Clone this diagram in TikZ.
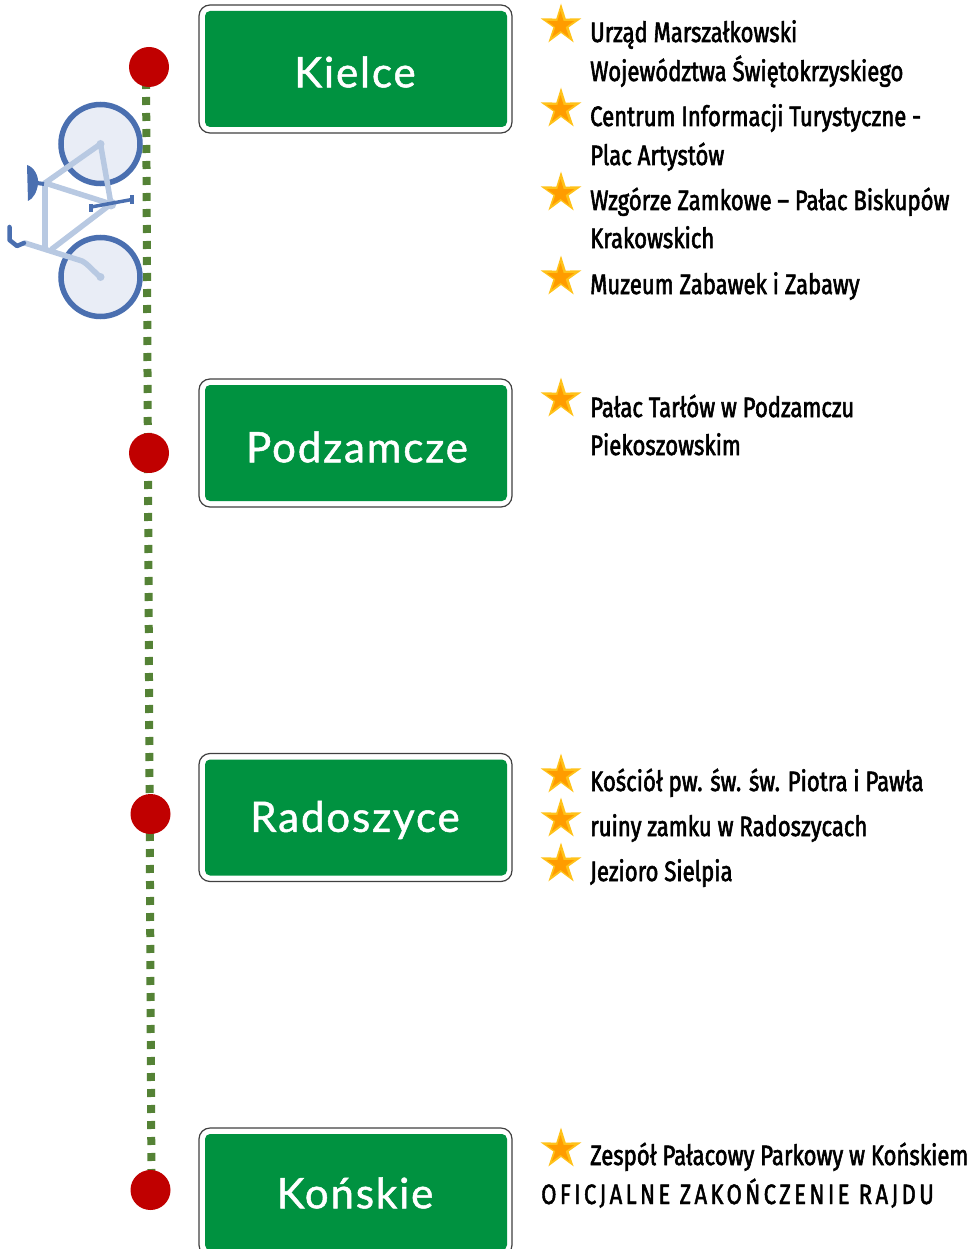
\documentclass[tikz,border=0pt]{standalone}
\usepackage{fontspec}
\setmainfont{Lato}
\newfontfamily\condf[FakeStretch=0.79,FakeBold=2]{Fira Sans}
\newfontfamily\condsp[FakeStretch=0.79,FakeBold=1.6,LetterSpace=12]{Fira Sans}
\newfontfamily\signf[LetterSpace=4.5,FakeBold=1.2]{Lato}
\usetikzlibrary{shapes.geometric}
\definecolor{signgreen}{HTML}{009240}
\definecolor{dotgreen}{HTML}{548235}
\definecolor{redc}{HTML}{C00000}
\definecolor{wheelblue}{HTML}{4A6FB0}
\definecolor{wheelfill}{HTML}{E9EDF6}
\definecolor{framec}{HTML}{B8C9E2}
\definecolor{staredge}{HTML}{FFC21A}
\definecolor{starcore}{HTML}{FF9C00}
\tikzset{
 outersign/.style={draw=black!75,line width=1.2pt,fill=white,rounded corners=11pt,minimum width=313pt,minimum height=128pt,inner sep=0pt,outer sep=0pt},
 innersign/.style={draw=none,fill=signgreen,rounded corners=5pt,minimum width=302pt,minimum height=116pt,inner sep=0pt,outer sep=0pt},
 signtext/.style={text=white,font=\signf\fontsize{42}{50}\selectfont,inner sep=0pt},
 place/.style={circle,fill=redc,minimum size=40pt,inner sep=0pt},
 walk/.style={draw=dotgreen,line width=8pt,dash pattern=on 8pt off 8pt},
 wstar/.style={star,star points=5,star point ratio=2.7,minimum size=43pt,inner sep=0pt,draw=none,fill=staredge},
 wcore/.style={star,star points=5,star point ratio=2.7,minimum size=29pt,inner sep=0pt,draw=none,fill=starcore},
 item/.style={anchor=base west,inner sep=0pt,text=black,font=\condf\fontsize{28}{30}\selectfont},
 wheel/.style={circle,draw=wheelblue,line width=5.5pt,fill=wheelfill,minimum size=79pt,inner sep=0pt},
 frameline/.style={draw=framec,line width=5.5pt,line cap=round,line join=round},
 darkline/.style={draw=wheelblue,line width=3.5pt,line join=round},
}
\begin{document}
\begin{tikzpicture}[x=1pt,y=-1pt]
\useasboundingbox (0,0) rectangle (973,1249);
\clip (0,0) rectangle (973,1249);
% route
\coordinate (routeTop) at (146,65);
\coordinate (routeEnd) at (151.5,1191);
\draw[walk] (routeTop) -- (routeEnd);
\node[place] (c1) at (149,67) {};
\node[place] (c2) at (149,453) {};
\node[place] (c3) at (150.5,814) {};
\node[place] (c4) at (150.5,1190) {};
% bicycle
\node[wheel] (w1) at (100.5,144) {};
\node[wheel] (w2) at (100.5,277) {};
\coordinate (seat) at (45,183);
\coordinate (crank) at (111,204);
\coordinate (head) at (52,249);
\coordinate (fork) at (45,247);
\draw[frameline] (w1.center) -- (seat) -- (crank) -- cycle;
\draw[frameline] (seat) -- (fork);
\draw[frameline] (crank) -- (head);
\draw[frameline] (25,243) -- (82,261) .. controls (88,264) and (94,272) .. (w2.center);
\fill[framec] (w1.center) circle (4pt) (w2.center) circle (4pt) (crank) circle (5.5pt);
\draw[darkline] (91,207) -- (132,199.5);
\draw[darkline] (91,204) -- (91,212);
\draw[darkline,line width=4pt] (132,195) -- (132,204);
\draw[darkline,line width=4pt] (37,183) -- (44,184);
\fill[wheelblue] (27,165) .. controls (34,167) and (39,176) .. (38,184) .. controls (37,192) and (33,199) .. (28,201) -- cycle;
\draw[darkline,line width=4.5pt,line cap=round] (9.5,227) -- (9.5,240) -- (17,246) -- (24,243);
% signs
\node[outersign] (s1) at (355.5,69) {};
\node[innersign] (g1) at (356,69) {};
\node[signtext] (t1) at (355,72) {Kielce};
\node[outersign] (s2) at (355.5,443) {};
\node[innersign] (g2) at (356,443) {};
\node[signtext] (t2) at (357,447) {Podzamcze};
\node[outersign] (s3) at (355.5,817.5) {};
\node[innersign] (g3) at (356,817.5) {};
\node[signtext] (t3) at (355,820) {Radoszyce};
\node[outersign] (s4) at (355.5,1192) {};
\node[innersign] (g4) at (356,1192) {};
\node[signtext] (t4) at (355,1193) {Końskie};
% stars
\foreach \n/\y in {a/25,b/109,c/193,d/277,e/399,f/775,g/819,h/864,i/1149}{
  \node[wstar] (st\n) at (561,\y) {};
  \node[wcore] (co\n) at (560.5,\y+0.5) {};
}
% texts
\node[item] (x1) at (590,42) {Urząd Marszałkowski};
\node[item] (x2) at (590,81) {Województwa Świętokrzyskiego};
\node[item] (x3) at (590,126) {Centrum Informacji Turystyczne -};
\node[item] (x4) at (590,165) {Plac Artystów};
\node[item] (x5) at (590,210) {Wzgórze Zamkowe – Pałac Biskupów};
\node[item] (x6) at (590,248) {Krakowskich};
\node[item] (x7) at (590,294) {Muzeum Zabawek i Zabawy};
\node[item] (x8) at (590,417) {Pałac Tarłów w Podzamczu};
\node[item] (x9) at (590,455) {Piekoszowskim};
\node[item] (x10) at (590,791) {Kościół pw. św. św. Piotra i Pawła};
\node[item] (x11) at (590,836) {ruiny zamku w Radoszycach};
\node[item] (x12) at (590,881) {Jezioro Sielpia};
\node[item] (x13) at (590,1165) {Zespół Pałacowy Parkowy w Końskiem};
\node[item,font=\condsp\fontsize{28}{30}\selectfont] (x14) at (541,1204) {OFICJALNE ZAKOŃCZENIE RAJDU};
\end{tikzpicture}
\end{document}
